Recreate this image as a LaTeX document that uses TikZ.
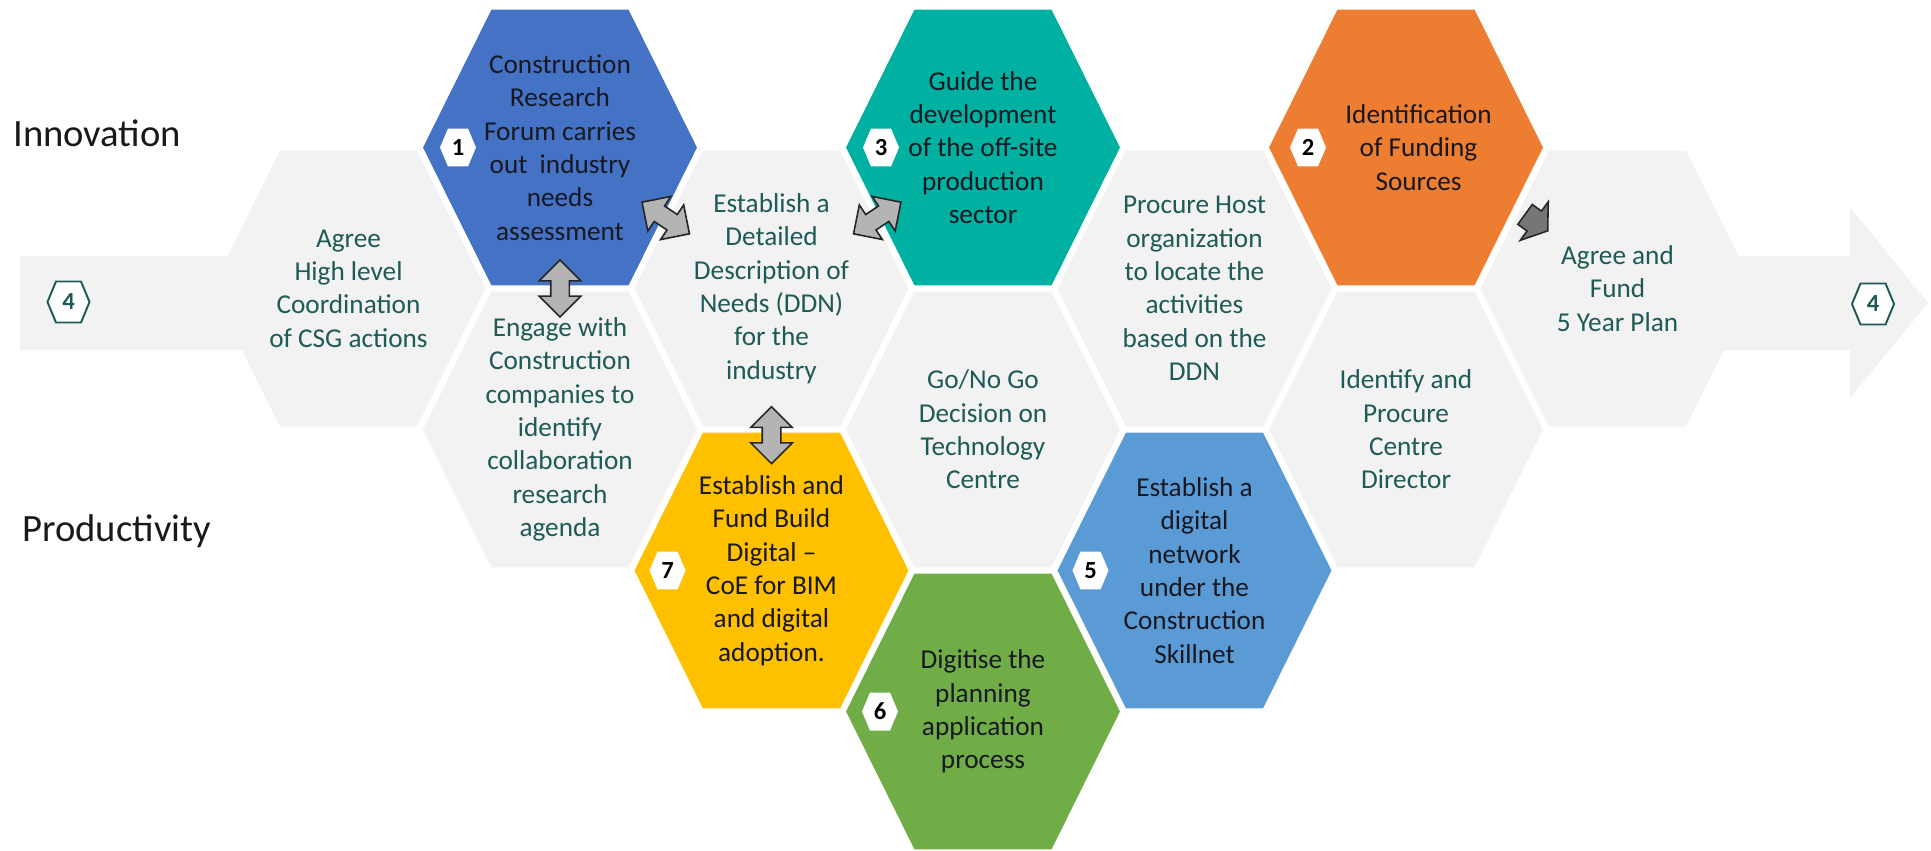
\documentclass[tikz,border=0pt]{standalone}
\usepackage{fontspec}
\setmainfont{Carlito}
\usetikzlibrary{calc,shapes.arrows}

\definecolor{cinzaclaro}{RGB}{242,242,242}
\definecolor{azul}{RGB}{68,114,196}
\definecolor{azulclaro}{RGB}{91,155,213}
\definecolor{turquesa}{RGB}{0,176,160}
\definecolor{laranja}{RGB}{237,125,49}
\definecolor{amarelo}{RGB}{255,192,0}
\definecolor{verde}{RGB}{112,173,71}
\definecolor{textoverde}{RGB}{30,90,86}
\definecolor{textoescuro}{RGB}{24,24,34}
\definecolor{setacinza}{RGB}{180,180,180}
\definecolor{setaescura}{RGB}{118,118,118}

\begin{document}
\begin{tikzpicture}[x=0.02cm, y=-0.02cm,
  every node/.style={align=center, inner sep=0pt, font=\fontsize{15.5}{19}\selectfont},
  fundohex/.style n args={3}{path picture={\path[#1]
      ([xshift=#3]path picture bounding box.west)
      -- ([xshift=#2, yshift=-#3]path picture bounding box.north west)
      -- ([xshift=-#2, yshift=-#3]path picture bounding box.north east)
      -- ([xshift=-#3]path picture bounding box.east)
      -- ([xshift=-#2, yshift=#3]path picture bounding box.south east)
      -- ([xshift=#2, yshift=#3]path picture bounding box.south west) -- cycle;}},
  hexa/.style={minimum width=5.48cm, minimum height=5.52cm, text=textoescuro,
    fundohex={fill=#1}{1.37cm}{0pt}},
  cinza/.style={hexa=cinzaclaro, text=textoverde},
  selo/.style={minimum width=0.72cm, minimum height=0.76cm, text=black,
    font=\fontsize{14}{14}\selectfont\bfseries, fundohex={fill=white}{0.16cm}{0pt}},
  selofim/.style={minimum width=0.88cm, minimum height=0.86cm, text=textoverde,
    font=\fontsize{14}{14}\selectfont\bfseries,
    fundohex={fill=white, draw=textoverde, line width=1.1pt}{0.19cm}{0.55pt}},
  setadupla/.style={double arrow, draw=black!85, line width=0.9pt, fill=setacinza,
    minimum height=1.14cm, inner xsep=0pt, inner ysep=0.17cm,
    double arrow head extend=0.23cm, double arrow tip angle=90},
  setasimples/.style={single arrow, draw=black!85, line width=0.9pt, fill=setaescura,
    minimum height=0.56cm, inner xsep=0pt, inner ysep=0.23cm,
    single arrow head extend=0.23cm, single arrow tip angle=110},
  rotulo/.style={font=\fontsize{22}{26}\selectfont, text=black!90}
]
\useasboundingbox (0,0) rectangle (1931,851);

% seta grande ao fundo
\fill[cinzaclaro] (20,256) rectangle (348.5,350);
\fill[cinzaclaro] (1617.5,256) -- (1850,256) -- (1850,207) -- (1928,303)
  -- (1850,398) -- (1850,350) -- (1617.5,350) -- cycle;

% favos
\node[cinza] (hA) at (348.5,288.5) {Agree\\High level\\Coordination\\of CSG actions};
\node[hexa=azul] (hB0) at (560,147.5) {Construction\\Research\\Forum carries\\out\ \ industry\\needs\\assessment};
\node[cinza] (hB1) at (560,429.5) {Engage with\\Construction\\companies to\\identify\\collaboration\\research\\agenda};
\node[cinza] (hC1) at (771.5,288.5) {Establish a\\Detailed\\Description of\\Needs (DDN)\\for the\\industry};
\node[hexa=amarelo] (hC2) at (771.5,570.5) {Establish and\\Fund Build\\Digital --\\CoE for BIM\\and digital\\adoption.};
\node[hexa=turquesa] (hD0) at (983,147.5) {Guide the\\development\\of the off-site\\production\\sector};
\node[cinza] (hD1) at (983,429.5) {Go/No Go\\Decision on\\Technology\\Centre};
\node[hexa=verde] (hD2) at (983,711.5) {Digitise the\\planning\\application\\process};
\node[cinza] (hE1) at (1194.5,288.5) {Procure Host\\organization\\to locate the\\activities\\based on the\\DDN};
\node[hexa=azulclaro] (hE2) at (1194.5,570.5) {Establish a\\digital\\network\\under the\\Construction\\Skillnet};
\node[hexa=laranja] (hF0) at (1406,147.5) {\hspace*{0.5cm}Identification\\\hspace*{0.5cm}of Funding\\\hspace*{0.5cm}Sources};
\node[cinza] (hF1) at (1406,429.5) {Identify and\\Procure\\Centre\\Director};
\node[cinza] (hG) at (1617.5,288.5) {Agree and\\Fund\\5 Year Plan};

% selos numerados
\node[selo] (s1) at ($(hB0)+(-102,0)$) {1};
\node[selo] (s3) at ($(hD0)+(-102,0)$) {3};
\node[selo] (s2) at ($(hF0)+(-98,0)$) {2};
\node[selo] (s7) at ($(hC2)+(-104,0)$) {7};
\node[selo] (s6) at ($(hD2)+(-103,0)$) {6};
\node[selo] (s5) at ($(hE2)+(-104,0)$) {5};
\node[selofim] (iniA) at (68.5,302) {4};
\node[selofim] (fimA) at (1873,304) {4};

% ligacoes entre favos
\node[setadupla, rotate=90] (lig1) at ($(hB0)!0.5!(hB1)$) {};
\node[setadupla, rotate=-33.7] (lig2) at ($(hB0)!0.5!(hC1)$) {};
\node[setadupla, rotate=33.7] (lig3) at ($(hC1)!0.5!(hD0)$) {};
\node[setadupla, rotate=90] (lig4) at ($(hC1)!0.52!(hC2)$) {};
\node[setasimples, rotate=-36] (lig5) at ($(hF0)!0.6!(hG)+(0,-12)$) {};

% rotulos
\node[rotulo, anchor=base west] (inov) at (13,147) {Innovation};
\node[rotulo, anchor=base west] (prod) at (22,541) {Productivity};
\end{tikzpicture}
\end{document}
